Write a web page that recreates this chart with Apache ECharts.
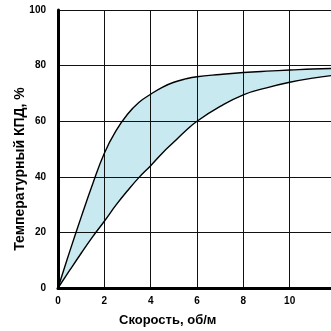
<!DOCTYPE html>
<html>
<head>
<meta charset="utf-8">
<script src="https://cdn.jsdelivr.net/npm/echarts@6/dist/echarts.min.js"></script>
<style>html,body{margin:0;padding:0;background:#fff;}#c{width:331px;height:331px;}</style>
</head>
<body>
<div id="c"></div>
<script>
var speeds = [0, 0.5, 1, 1.5, 2, 2.5, 3, 3.5, 4, 4.5, 5, 5.5, 6, 7, 8, 9, 10, 11, 12];
var upperEff = [0, 13, 25.5, 37.5, 48.5, 56.5, 62.5, 66.8, 69.7, 72.2, 74, 75.2, 76, 76.8, 77.5, 78, 78.4, 78.8, 79];
var lowerEff = [0, 6.3, 12.5, 18.5, 24, 29.8, 35, 39.8, 44, 48.5, 52.5, 56.5, 60, 65.3, 69.5, 72, 74, 75.5, 76.6];
var xTicks = [0, 2, 4, 6, 8, 10, 12];
var yTicks = [0, 20, 40, 60, 80, 100];

var lowerPts = speeds.map(function (s, i) { return [s, lowerEff[i]]; });
var upperPts = speeds.map(function (s, i) { return [s, upperEff[i]]; });

var tickFont = { fontFamily: 'Liberation Sans Narrow, Liberation Sans, sans-serif', fontWeight: 'bold', fontSize: 10, color: '#000' };
var chart = echarts.init(document.getElementById('c'), null, { renderer: 'canvas' });
chart.setOption({
  animation: false,
  backgroundColor: '#fff',
  grid: { left: 58, top: 10, right: -5, bottom: 43, containLabel: false, outerBoundsMode: 'none' },
  xAxis: {
    type: 'value', min: 0, max: 12, interval: 2, z: 3,
    axisLine: { show: true, onZero: false, lineStyle: { color: '#000', width: 3 } },
    axisTick: { show: false },
    splitLine: { show: true, lineStyle: { color: '#111', width: 1 } },
    axisLabel: Object.assign({ margin: 8, formatter: function (v) { return xTicks.indexOf(v) >= 0 ? String(v) : ''; } }, tickFont)
  },
  yAxis: {
    type: 'value', min: 0, max: 100, interval: 20, z: 3,
    axisLine: { show: true, lineStyle: { color: '#000', width: 3 } },
    axisTick: { show: false },
    splitLine: { show: true, lineStyle: { color: '#111', width: 1 } },
    axisLabel: Object.assign({ margin: 12, formatter: function (v) { return yTicks.indexOf(v) >= 0 ? String(v) : ''; } }, tickFont)
  },
  graphic: [{
    type: 'text', left: 119, top: 314,
    style: { text: 'Скорость, об/м', font: 'bold 13px "Liberation Sans", Arial, sans-serif', fill: '#000' }
  }, {
    type: 'text', x: 20, y: 169, rotation: Math.PI / 2,
    style: { text: 'Температурный КПД, %', font: 'bold 14px "Liberation Sans", Arial, sans-serif', fill: '#000', align: 'center', verticalAlign: 'middle' }
  }],
  series: [
    { type: 'line', data: upperPts, smooth: 0.45, symbol: 'none', lineStyle: { width: 0 },
      areaStyle: { color: '#c9e9f1', opacity: 1 }, silent: true, z: 1 },
    { type: 'line', data: lowerPts, smooth: 0.45, symbol: 'none', lineStyle: { width: 0 },
      areaStyle: { color: '#ffffff', opacity: 1 }, silent: true, z: 2 },
    { type: 'line', data: upperPts, smooth: 0.45, symbol: 'none', lineStyle: { color: '#000', width: 1.4 }, z: 5 },
    { type: 'line', data: lowerPts, smooth: 0.45, symbol: 'none', lineStyle: { color: '#000', width: 1.4 }, z: 5 }
  ]
});
</script>
</body>
</html>
